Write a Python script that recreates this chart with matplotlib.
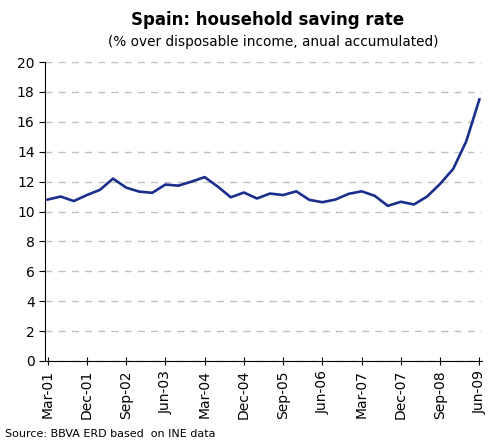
import matplotlib
matplotlib.use("Agg")
import matplotlib.pyplot as plt

quarters = ["Mar-01","Jun-01","Sep-01","Dec-01","Mar-02","Jun-02","Sep-02","Dec-02",
            "Mar-03","Jun-03","Sep-03","Dec-03","Mar-04","Jun-04","Sep-04","Dec-04",
            "Mar-05","Jun-05","Sep-05","Dec-05","Mar-06","Jun-06","Sep-06","Dec-06",
            "Mar-07","Jun-07","Sep-07","Dec-07","Mar-08","Jun-08","Sep-08","Dec-08",
            "Mar-09","Jun-09"]
saving_rate = [10.8, 11.0, 10.7, 11.1, 11.45, 12.2, 11.6, 11.33, 11.25, 11.8, 11.73, 12.0,
               12.3, 11.67, 10.95, 11.27, 10.87, 11.2, 11.1, 11.35, 10.78, 10.62, 10.8, 11.18,
               11.35, 11.05, 10.38, 10.65, 10.47, 11.0, 11.85, 12.85, 14.7, 17.5]
y_ticks = [0, 2, 4, 6, 8, 10, 12, 14, 16, 18, 20]

fig = plt.figure(figsize=(4.91, 4.42), dpi=100)
ax = fig.add_axes([45/491, (442-361)/442, (482-45)/491, (361-62)/442])

x = list(range(len(quarters)))
ax.plot(x, saving_rate, color="#1a2f8c", lw=1.9, solid_joinstyle="round")

ax.set_ylim(0, 20)
ax.set_yticks(y_ticks)
ax.set_xlim(-0.2, len(quarters) - 0.8)
ax.set_xticks(x[::3])
ax.set_xticklabels(quarters[::3], rotation=90)
ax.yaxis.grid(True, linestyle=(0, (5, 4.5)), color="#c0c0c0", lw=1)
ax.set_axisbelow(True)
for s in ["top", "right"]:
    ax.spines[s].set_visible(False)
ax.tick_params(axis="both", labelsize=10, length=4, color="black")
ax.tick_params(axis="x", direction="inout", length=6)

fig.text(0.545, 0.955, "Spain: household saving rate", ha="center", va="center",
         fontsize=12, fontweight="bold")
fig.text(0.557, 0.905, "(% over disposable income, anual accumulated)", ha="center",
         va="center", fontsize=9.8)
fig.text(0.01, 0.018, "Source: BBVA ERD based  on INE data", ha="left", va="center",
         fontsize=8)

fig.savefig("out.png", dpi=100)
